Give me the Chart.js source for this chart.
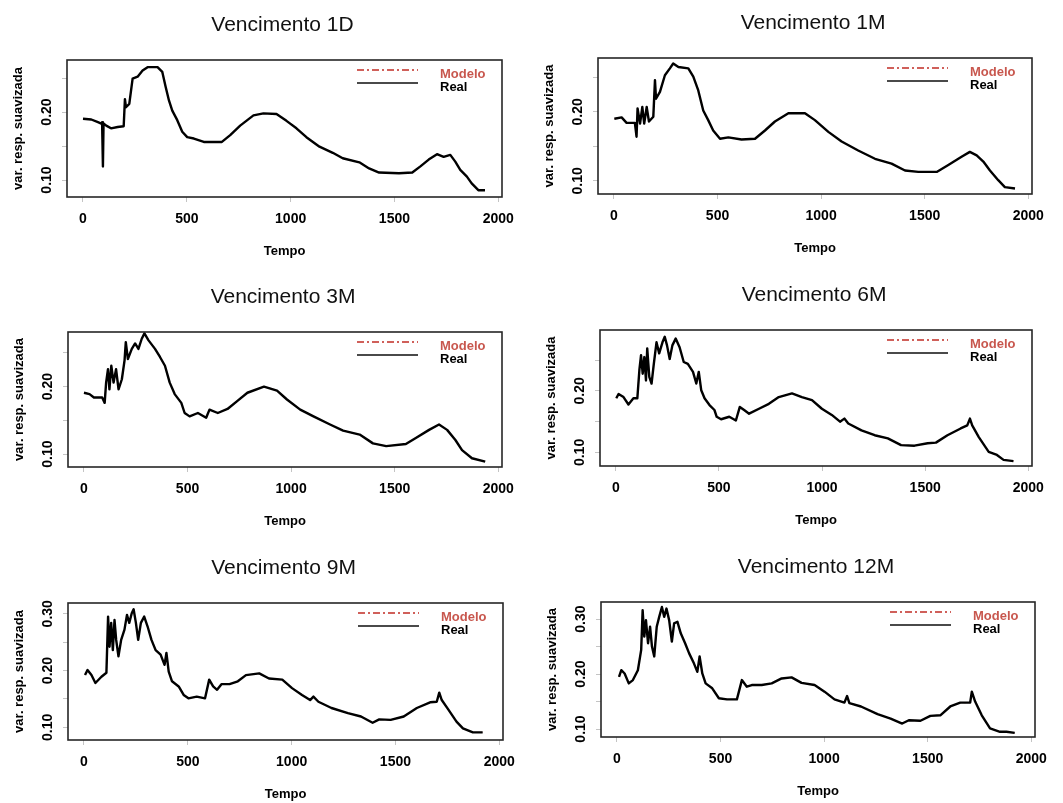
<!DOCTYPE html>
<html>
<head>
<meta charset="utf-8">
<script src="https://cdn.jsdelivr.net/npm/chart.js@4.4.1/dist/chart.umd.min.js"></script>
<style>
  body { margin: 0; background: #fff; width: 1063px; height: 803px; position: relative; overflow: hidden; }
  .painel { position: absolute; }
</style>
</head>
<body>
<div id="p1D" class="painel"><canvas></canvas></div>
<div id="p1M" class="painel"><canvas></canvas></div>
<div id="p3M" class="painel"><canvas></canvas></div>
<div id="p6M" class="painel"><canvas></canvas></div>
<div id="p9M" class="painel"><canvas></canvas></div>
<div id="p12M" class="painel"><canvas></canvas></div>
<script>
// variância da resposta suavizada por vencimento (Real; o Modelo coincide com ela)
const tempo1D = [0,40,72,88,92,96,99,112,135,167,196,202,207,223,239,263,287,311,359,382,398,414,430,454,478,502,534,582,669,709,757,821,869,932,980,1028,1076,1139,1203,1251,1331,1378,1426,1522,1586,1625,1665,1705,1737,1769,1793,1817,1849,1872,1904,1936];
const real1D = [0.190,0.189,0.185,0.183,0.185,0.120,0.183,0.180,0.176,0.178,0.179,0.219,0.207,0.212,0.249,0.252,0.261,0.266,0.266,0.259,0.237,0.217,0.202,0.188,0.171,0.163,0.161,0.156,0.156,0.166,0.180,0.195,0.198,0.197,0.187,0.176,0.163,0.149,0.140,0.132,0.126,0.117,0.111,0.110,0.111,0.120,0.130,0.138,0.134,0.137,0.127,0.115,0.105,0.095,0.085,0.085];

const tempo1M = [2,37,61,101,109,114,126,137,146,158,169,190,198,203,222,246,270,286,311,359,383,407,431,455,479,512,552,616,681,729,777,842,922,970,1035,1099,1179,1260,1340,1405,1469,1558,1614,1678,1718,1751,1783,1815,1855,1887,1936];
const real1M = [0.190,0.192,0.184,0.184,0.164,0.205,0.183,0.207,0.183,0.207,0.186,0.193,0.246,0.219,0.229,0.253,0.263,0.270,0.265,0.263,0.251,0.231,0.202,0.188,0.173,0.161,0.163,0.160,0.161,0.173,0.186,0.198,0.198,0.188,0.171,0.157,0.144,0.132,0.125,0.115,0.113,0.113,0.123,0.135,0.142,0.137,0.128,0.115,0.101,0.091,0.089];

const tempo3M = [0,27,48,88,100,107,116,123,132,143,155,167,183,196,202,212,231,247,263,279,292,311,343,367,391,414,438,470,486,510,550,590,606,646,693,741,789,869,932,980,1044,1108,1188,1251,1331,1395,1459,1554,1602,1666,1714,1753,1793,1825,1873,1937];
const real3M = [0.191,0.189,0.184,0.184,0.176,0.206,0.226,0.196,0.231,0.206,0.226,0.196,0.211,0.239,0.266,0.241,0.256,0.264,0.256,0.271,0.279,0.269,0.256,0.244,0.231,0.206,0.189,0.176,0.161,0.156,0.161,0.154,0.166,0.161,0.167,0.179,0.191,0.200,0.194,0.181,0.166,0.156,0.144,0.135,0.129,0.116,0.112,0.115,0.124,0.136,0.144,0.136,0.121,0.106,0.094,0.089];

const tempo6M = [2,13,37,61,85,104,114,122,130,138,146,152,162,173,184,197,210,226,237,248,261,274,290,309,329,349,374,390,402,414,430,454,478,489,510,550,582,601,622,646,694,742,790,854,902,951,999,1047,1087,1108,1127,1191,1255,1319,1383,1448,1512,1552,1608,1672,1704,1717,1728,1760,1808,1848,1880,1928];
const real6M = [0.188,0.195,0.190,0.178,0.188,0.188,0.234,0.258,0.228,0.255,0.217,0.269,0.223,0.212,0.244,0.279,0.261,0.279,0.288,0.274,0.252,0.274,0.285,0.271,0.247,0.244,0.231,0.212,0.231,0.201,0.188,0.177,0.169,0.158,0.154,0.158,0.152,0.174,0.169,0.163,0.171,0.179,0.190,0.196,0.190,0.185,0.171,0.161,0.150,0.155,0.147,0.136,0.128,0.123,0.112,0.111,0.115,0.116,0.128,0.139,0.144,0.155,0.144,0.125,0.101,0.096,0.088,0.086];

const tempo9M = [5,17,36,55,84,108,116,123,131,139,147,155,166,179,195,207,218,230,239,250,261,274,290,306,325,345,369,388,397,408,424,456,480,503,543,583,603,622,641,662,701,741,780,844,891,955,1002,1050,1089,1105,1129,1192,1271,1334,1390,1422,1477,1540,1603,1667,1699,1711,1723,1755,1794,1825,1873,1920];
const real9M = [0.192,0.201,0.192,0.178,0.189,0.196,0.295,0.242,0.284,0.236,0.289,0.254,0.225,0.254,0.272,0.298,0.284,0.301,0.308,0.284,0.254,0.284,0.295,0.278,0.254,0.236,0.228,0.210,0.231,0.198,0.181,0.172,0.157,0.151,0.154,0.151,0.184,0.172,0.166,0.176,0.176,0.181,0.192,0.195,0.186,0.184,0.169,0.157,0.148,0.154,0.145,0.134,0.125,0.119,0.108,0.114,0.113,0.119,0.134,0.144,0.145,0.161,0.148,0.131,0.110,0.098,0.091,0.091];

const tempo12M = [10,21,37,57,77,101,117,124,132,140,150,160,169,180,192,204,217,228,239,252,265,276,292,308,329,348,372,388,399,412,428,460,492,531,579,603,627,651,699,747,795,843,891,954,1002,1050,1098,1111,1122,1178,1258,1321,1377,1409,1465,1513,1561,1609,1657,1705,1713,1729,1761,1801,1849,1880,1920];
const real12M = [0.195,0.207,0.201,0.183,0.189,0.207,0.244,0.316,0.268,0.298,0.256,0.286,0.250,0.232,0.286,0.304,0.322,0.304,0.319,0.298,0.259,0.292,0.295,0.274,0.256,0.238,0.219,0.204,0.232,0.201,0.183,0.174,0.156,0.154,0.154,0.189,0.177,0.180,0.180,0.183,0.192,0.194,0.184,0.180,0.168,0.154,0.148,0.160,0.147,0.141,0.127,0.119,0.110,0.116,0.115,0.124,0.125,0.141,0.148,0.148,0.168,0.150,0.125,0.101,0.095,0.095,0.093];

// marcas dos eixos
const ticksX = [0, 500, 1000, 1500, 2000];
const ticksYCurto = [0.10, 0.15, 0.20, 0.25];
const rotulosYCurto = [0.10, 0.20];
const ticksYLongo = [0.10, 0.15, 0.20, 0.25, 0.30];
const rotulosYLongo = [0.10, 0.20, 0.30];

const FONTE = '"Liberation Sans", Arial, Helvetica, sans-serif';
const EIXO_Y = 64, TOPO = 60, DIREITA = 24, EIXO_X = 70;

// caixa, título, rótulos verticais do eixo y e legenda no canto
const moldura = {
  id: 'moldura',
  afterDatasetsDraw(chart, args, opts) {
    const { ctx, chartArea: a, scales } = chart;
    ctx.save();
    ctx.strokeStyle = '#262626';
    ctx.lineWidth = 1.6;
    ctx.strokeRect(a.left, a.top, a.right - a.left, a.bottom - a.top);

    ctx.fillStyle = '#111';
    ctx.font = '21px ' + FONTE;
    ctx.textAlign = 'center';
    ctx.textBaseline = 'alphabetic';
    ctx.fillText(opts.titulo, (a.left + a.right) / 2 - 2, a.top - 29);

    ctx.fillStyle = '#000';
    ctx.font = 'bold 14px ' + FONTE;
    ctx.textBaseline = 'middle';
    opts.rotulosY.forEach(v => {
      ctx.save();
      ctx.translate(a.left - 20, scales.y.getPixelForValue(v));
      ctx.rotate(-Math.PI / 2);
      ctx.fillText(v.toFixed(2), 0, 0);
      ctx.restore();
    });

    const itens = chart.data.datasets.slice().reverse();
    const coresTexto = ['#c8574e', '#000'];
    const coresLinha = ['#d0605a', '#4a4a4a'];
    ctx.font = 'bold 13px ' + FONTE;
    ctx.textAlign = 'left';
    ctx.textBaseline = 'alphabetic';
    itens.forEach((ds, i) => {
      const yl = a.top + 10 + i * 13;
      ctx.beginPath();
      ctx.setLineDash(ds.borderDash || []);
      ctx.strokeStyle = coresLinha[i];
      ctx.lineWidth = 1.8;
      ctx.moveTo(a.right - 145, yl);
      ctx.lineTo(a.right - 84, yl);
      ctx.stroke();
      ctx.setLineDash([]);
      ctx.fillStyle = coresTexto[i];
      ctx.fillText(ds.label, a.right - 62, a.top + 18 + i * 12.5);
    });
    ctx.restore();
  }
};

function pontos(tempo, valores) {
  return tempo.map((t, i) => ({ x: t, y: valores[i] }));
}

function desenhaPainel(id, titulo, tempo, real, caixa, yMin, yMax, ticksY, rotulosY) {
  const [L, T, R, B] = caixa;
  const div = document.getElementById(id);
  const w = (R - L) + EIXO_Y + DIREITA;
  const h = (B - T) + TOPO + EIXO_X;
  div.style.left = (L - EIXO_Y) + 'px';
  div.style.top = (T - TOPO) + 'px';
  const canvas = div.querySelector('canvas');
  canvas.width = w; canvas.height = h;
  canvas.style.width = w + 'px'; canvas.style.height = h + 'px';

  new Chart(canvas, {
    type: 'line',
    data: {
      datasets: [
        { label: 'Real', data: pontos(tempo, real), borderColor: '#000', borderWidth: 2.4 },
        { label: 'Modelo', data: pontos(tempo, real), borderColor: '#d0605a', borderWidth: 1, borderDash: [7, 3, 2, 3] }
      ]
    },
    options: {
      responsive: false,
      animation: false,
      layout: { padding: { top: TOPO, right: DIREITA, left: 0, bottom: 0 } },
      elements: { point: { radius: 0 }, line: { tension: 0, borderJoinStyle: 'round' } },
      plugins: {
        legend: { display: false },
        tooltip: { enabled: false },
        moldura: { titulo: titulo, rotulosY: rotulosY }
      },
      scales: {
        x: {
          type: 'linear', min: -77, max: 2018,
          afterBuildTicks: s => { s.ticks = ticksX.map(v => ({ value: v })); },
          afterFit: s => { s.height = EIXO_X; },
          ticks: { color: '#000', padding: 9, maxRotation: 0, autoSkip: false,
                   font: { family: FONTE, size: 14, weight: 'bold' }, callback: v => String(v) },
          grid: { drawOnChartArea: false, tickLength: 5, color: '#c4c4c4' },
          border: { display: false },
          title: { display: true, text: 'Tempo', color: '#000',
                   font: { family: FONTE, size: 13, weight: 'bold' }, padding: { top: 0, bottom: 8 } }
        },
        y: {
          type: 'linear', min: yMin, max: yMax,
          afterBuildTicks: s => { s.ticks = ticksY.map(v => ({ value: v })); },
          afterFit: s => { s.width = EIXO_Y; },
          ticks: { display: false },
          grid: { drawOnChartArea: false, tickLength: 5, color: '#c4c4c4' },
          border: { display: false },
          title: { display: true, text: 'var. resp. suavizada', color: '#000',
                   font: { family: FONTE, size: 13, weight: 'bold' }, padding: { top: 8, bottom: 0 } }
        }
      }
    },
    plugins: [moldura]
  });
}

desenhaPainel('p1D', 'Vencimento 1D', tempo1D, real1D, [67, 60, 502, 197], 0.075, 0.2765, ticksYCurto, rotulosYCurto);
desenhaPainel('p1M', 'Vencimento 1M', tempo1M, real1M, [598, 58, 1032, 194], 0.081, 0.278, ticksYCurto, rotulosYCurto);
desenhaPainel('p3M', 'Vencimento 3M', tempo3M, real3M, [68, 332, 502, 467], 0.081, 0.281, ticksYCurto, rotulosYCurto);
desenhaPainel('p6M', 'Vencimento 6M', tempo6M, real6M, [600, 330, 1032, 466], 0.078, 0.299, ticksYCurto, rotulosYCurto);
desenhaPainel('p9M', 'Vencimento 9M', tempo9M, real9M, [68, 603, 503, 740], 0.0776, 0.319, ticksYLongo, rotulosYLongo);
desenhaPainel('p12M', 'Vencimento 12M', tempo12M, real12M, [601, 602, 1035, 737], 0.0855, 0.331, ticksYLongo, rotulosYLongo);
</script>
</body>
</html>
